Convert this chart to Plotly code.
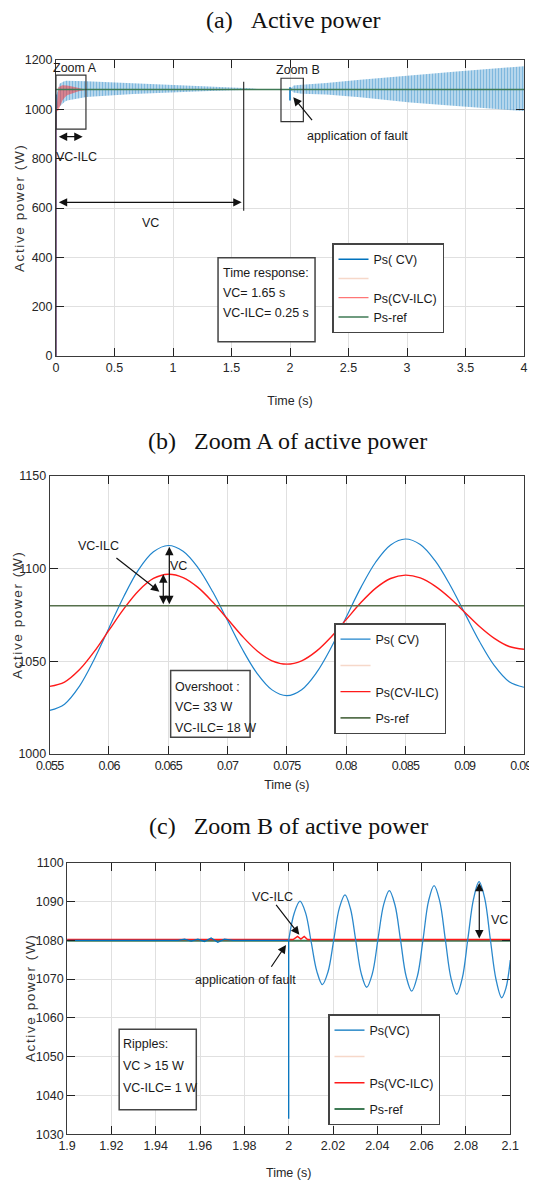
import plotly.graph_objects as go

# ======================= DATA =======================
# ---- (a) Active power, 0-4 s ----
A_T_TICKS = [0, 0.5, 1, 1.5, 2, 2.5, 3, 3.5, 4]
A_T_LABELS = ["0", "0.5", "1", "1.5", "2", "2.5", "3", "3.5", "4"]
A_P_TICKS = [0, 200, 400, 600, 800, 1000, 1200]

a_cv_line_t = [0, 0, None, 2.0, 2.0]
a_cv_line_p = [0, 1060, None, 1090, 1036]
a_cv_up1_t = [0.004, 0.03, 0.065, 0.085, 0.26, 0.66, 0.95, 1.25, 1.5, 1.65, 1.8]
a_cv_up1_p = [1060, 1104, 1113, 1116, 1114, 1106, 1099, 1094, 1090, 1085, 1080]
a_cv_lo1_t = [0.004, 0.02, 0.055, 0.075, 0.095, 0.26, 0.66, 0.95, 1.25, 1.5, 1.65, 1.8]
a_cv_lo1_p = [1000, 1010, 1023, 1031, 1036, 1050, 1062, 1068, 1073, 1077, 1079, 1080]
a_cv_up2_t = [2.0, 2.03, 2.1, 2.31, 2.6, 3.03, 3.45, 4.0]
a_cv_up2_p = [1080, 1097, 1100, 1107, 1120, 1138, 1154, 1175]
a_cv_lo2_t = [2.0, 2.03, 2.1, 2.31, 2.6, 3.03, 3.45, 4.0]
a_cv_lo2_p = [1080, 1068, 1063, 1060, 1049, 1028, 1012, 993]
a_ilc_line_t = [0, 0]
a_ilc_line_p = [0, 1000]
a_ilc_up_t = [0.004, 0.02, 0.055, 0.075, 0.095, 0.14, 0.2, 0.26]
a_ilc_up_p = [1000, 1090, 1098, 1098, 1097, 1093, 1086, 1081]
a_ilc_lo_t = [0.004, 0.02, 0.055, 0.075, 0.095, 0.14, 0.2, 0.26]
a_ilc_lo_p = [990, 995, 1036, 1048, 1057, 1066, 1074, 1079]
a_ref_t = [0, 4]
a_ref_p = [1080, 1080]

# ---- (b) Zoom A ----
B_T_TICKS = [0.055, 0.06, 0.065, 0.07, 0.075, 0.08, 0.085, 0.09, 0.095]
B_T_LABELS = ["0.055", "0.06", "0.065", "0.07", "0.075", "0.08", "0.085", "0.09", "0.095"]
B_P_TICKS = [1000, 1050, 1100, 1150]
b_t = [0.055, 0.05625, 0.0575, 0.05875, 0.06, 0.06125, 0.0625, 0.06375,
       0.065, 0.06625, 0.0675, 0.06875, 0.07, 0.07125, 0.0725, 0.07375,
       0.075, 0.07625, 0.0775, 0.07875, 0.08, 0.08125, 0.0825, 0.08375,
       0.085, 0.08625, 0.0875, 0.08875, 0.09, 0.09125, 0.0925, 0.09375, 0.095]
b_cv = [1023.5, 1026.9, 1036.5, 1051.0, 1068.0, 1085.0, 1099.5, 1109.1,
        1112.5, 1109.4, 1100.6, 1087.5, 1072.0, 1056.5, 1043.4, 1034.6,
        1031.5, 1034.7, 1043.9, 1057.6, 1073.8, 1089.9, 1103.6, 1112.8,
        1116.0, 1113.0, 1104.3, 1091.3, 1076.0, 1060.7, 1047.7, 1039.0, 1036.0]
b_ilc = [1036.5, 1038.8, 1045.4, 1055.2, 1066.8, 1078.3, 1088.1, 1094.7,
         1097.0, 1095.2, 1089.9, 1082.0, 1072.8, 1063.5, 1055.6, 1050.3,
         1048.5, 1050.3, 1055.5, 1063.3, 1072.5, 1081.7, 1089.5, 1094.7,
         1096.5, 1095.0, 1090.6, 1084.2, 1076.5, 1068.8, 1062.4, 1058.0, 1056.5]
b_ref_t = [0.055, 0.095]
b_ref_p = [1080, 1080]

# ---- (c) Zoom B ----
C_T_TICKS = [1.9, 1.92, 1.94, 1.96, 1.98, 2.0, 2.02, 2.04, 2.06, 2.08, 2.1]
C_T_LABELS = ["1.9", "1.92", "1.94", "1.96", "1.98", "2", "2.02", "2.04", "2.06", "2.08", "2.1"]
C_P_TICKS = [1030, 1040, 1050, 1060, 1070, 1080, 1090, 1100]
c_vc_pre_t = [1.9, 1.95, 1.953, 1.956, 1.959, 1.962, 1.965, 1.968, 1.971, 1.975, 2.0, 2.0, 2.0]
c_vc_pre_p = [1080, 1080, 1080.3, 1079.8, 1080.3, 1079.7, 1080.6, 1079.5, 1080.3, 1080, 1080, 1034, 1080]
c_vc_osc_t = [2.0, 2.00255, 2.0051, 2.00765, 2.0102, 2.0127, 2.0152, 2.01775, 2.0203, 2.02285,
              2.0254, 2.02785, 2.0303, 2.03275, 2.0352, 2.03775, 2.0403, 2.04285, 2.0454, 2.04795,
              2.0505, 2.053, 2.0555, 2.05805, 2.0606, 2.0631, 2.0656, 2.06815, 2.0707, 2.07325,
              2.0758, 2.07835, 2.0809, 2.0834, 2.0859, 2.08845, 2.091, 2.09355, 2.0961, 2.098, 2.1]
c_vc_osc_p = [1080.0, 1087.1, 1090.1, 1087.0, 1079.4, 1072.0, 1068.6, 1071.9, 1080.0, 1088.3,
              1091.7, 1088.2, 1079.8, 1071.4, 1067.9, 1071.4, 1080.3, 1089.2, 1092.8, 1089.1,
              1079.9, 1070.7, 1066.9, 1070.7, 1080.1, 1090.1, 1094.1, 1090.1, 1080.1, 1070.2,
              1066.1, 1070.3, 1080.6, 1090.6, 1095.1, 1090.8, 1080.2, 1069.9, 1065.2, 1067.6, 1074.9]
c_ilc_t = [1.9, 2.002, 2.004, 2.0055, 2.007, 2.0085, 2.1]
c_ilc_p = [1080.2, 1080.2, 1081, 1080.3, 1081, 1080.2, 1080.2]
c_ref_t = [1.9, 2.1]
c_ref_p = [1079.9, 1079.9]

# ======================= STYLE =======================
OFF = 8                     # page margin of the html body
W, H = 537 - OFF, 1180 - OFF
NARROW = "Liberation Sans, sans-serif"
SERIF = "Liberation Serif, Times New Roman, serif"
BLUE = "#0072BD"
RED = "#FF1A1A"
GREEN = "#3f7a55"
PEACH = "rgba(240,190,165,0.6)"
TXT = "#1a1a1a"
FS = 12.5


def px_x(p):
    return (p - OFF) / W


def px_y(p):
    return 1 - (p - OFF) / H


def band(up_t, up_p, lo_t, lo_p):
    return list(up_t) + list(lo_t)[::-1], list(up_p) + list(lo_p)[::-1]


def tight(labels, ls=-0.8):
    return ["<span style='letter-spacing:%spx'>%s</span>" % (ls, s) for s in labels]


fig = go.Figure()

# ---------- (a) ----------
x1, y1 = band(a_cv_up1_t, a_cv_up1_p, a_cv_lo1_t, a_cv_lo1_p)
x2, y2 = band(a_cv_up2_t, a_cv_up2_p, a_cv_lo2_t, a_cv_lo2_p)
fig.add_trace(go.Scatter(x=x1 + [None] + x2, y=y1 + [None] + y2, xaxis="x", yaxis="y",
                         mode="lines", fill="toself", line=dict(width=0, color=BLUE),
                         fillcolor="rgba(255,255,255,0)",
                         fillpattern=dict(shape="|", fgcolor=BLUE, bgcolor="rgba(255,255,255,0)",
                                          size=3, solidity=0.72),
                         showlegend=False, hoverinfo="skip"))
fig.add_trace(go.Scatter(x=a_cv_line_t, y=a_cv_line_p, xaxis="x", yaxis="y", mode="lines",
                         line=dict(color=BLUE, width=1.5), name="Ps( CV)",
                         legend="legend", legendgroup="a1", legendrank=1))
xr, yr = band(a_ilc_up_t, a_ilc_up_p, a_ilc_lo_t, a_ilc_lo_p)
fig.add_trace(go.Scatter(x=xr, y=yr, xaxis="x", yaxis="y", mode="lines", fill="toself",
                         line=dict(width=0, color=RED), fillcolor="rgba(255,255,255,0)",
                         fillpattern=dict(shape="|", fgcolor=RED, bgcolor="rgba(255,255,255,0)",
                                          size=2, solidity=0.9),
                         showlegend=False, hoverinfo="skip"))
fig.add_trace(go.Scatter(x=a_ilc_line_t, y=a_ilc_line_p, xaxis="x", yaxis="y", mode="lines",
                         line=dict(color=RED, width=1.2), opacity=0.6, name="Ps(CV-ILC)",
                         legend="legend", legendgroup="a3", legendrank=3))
fig.add_trace(go.Scatter(x=[None], y=[None], xaxis="x", yaxis="y", mode="lines",
                         line=dict(color=PEACH, width=1.5), name=" ",
                         legend="legend", legendgroup="a2", legendrank=2))
fig.add_trace(go.Scatter(x=a_ref_t, y=a_ref_p, xaxis="x", yaxis="y", mode="lines",
                         line=dict(color=GREEN, width=1.5), name="Ps-ref",
                         legend="legend", legendgroup="a4", legendrank=4))

# ---------- (b) ----------
fig.add_trace(go.Scatter(x=b_t, y=b_cv, xaxis="x2", yaxis="y2", mode="lines",
                         line=dict(color="#1f84cc", width=1.2, shape="spline"), name="Ps( CV)",
                         legend="legend2", legendgroup="b1", legendrank=1))
fig.add_trace(go.Scatter(x=b_t, y=b_ilc, xaxis="x2", yaxis="y2", mode="lines",
                         line=dict(color=RED, width=1.4, shape="spline"), name="Ps(CV-ILC)",
                         legend="legend2", legendgroup="b3", legendrank=3))
fig.add_trace(go.Scatter(x=[None], y=[None], xaxis="x2", yaxis="y2", mode="lines",
                         line=dict(color=PEACH, width=1.5), name=" ",
                         legend="legend2", legendgroup="b2", legendrank=2))
fig.add_trace(go.Scatter(x=b_ref_t, y=b_ref_p, xaxis="x2", yaxis="y2", mode="lines",
                         line=dict(color="#56704c", width=1.6), name="Ps-ref",
                         legend="legend2", legendgroup="b4", legendrank=4))

# ---------- (c) ----------
fig.add_trace(go.Scatter(x=c_ref_t, y=c_ref_p, xaxis="x3", yaxis="y3", mode="lines",
                         line=dict(color=GREEN, width=2), name="Ps-ref",
                         legend="legend3", legendgroup="c4", legendrank=4))
fig.add_trace(go.Scatter(x=c_ilc_t, y=c_ilc_p, xaxis="x3", yaxis="y3", mode="lines",
                         line=dict(color=RED, width=1.5), name="Ps(VC-ILC)",
                         legend="legend3", legendgroup="c3", legendrank=3))
fig.add_trace(go.Scatter(x=[None], y=[None], xaxis="x3", yaxis="y3", mode="lines",
                         line=dict(color=PEACH, width=1.5), name=" ",
                         legend="legend3", legendgroup="c2", legendrank=2))
fig.add_trace(go.Scatter(x=c_vc_pre_t, y=c_vc_pre_p, xaxis="x3", yaxis="y3", mode="lines",
                         line=dict(color=BLUE, width=1.3), name="Ps(VC)",
                         legend="legend3", legendgroup="c1", legendrank=1))
fig.add_trace(go.Scatter(x=c_vc_osc_t, y=c_vc_osc_p, xaxis="x3", yaxis="y3", mode="lines",
                         line=dict(color="#2a88cc", width=1.3, shape="spline"),
                         showlegend=False, legend="legend3", legendgroup="c1"))

# ======================= LAYOUT =======================
def axis_style(**kw):
    d = dict(showline=True, linecolor="#3a3a3a", linewidth=1, mirror="ticks",
             ticks="inside", ticklen=8, tickcolor="#222", tickwidth=1, automargin=False,
             showgrid=True, gridcolor="#e0e0e0", gridwidth=1, zeroline=False,
             ticklabeloverflow="allow",
             tickfont=dict(family=NARROW, size=FS, color="#262626"))
    d.update(kw)
    return d


xt = dict(text="Time (s)", font=dict(family=NARROW, size=FS, color="#262626"))

fig.update_layout(
    width=W, height=H, margin=dict(l=0, r=0, t=0, b=0, autoexpand=False),
    paper_bgcolor="white", plot_bgcolor="white",
    xaxis=axis_style(domain=[px_x(56), px_x(524)], range=[0, 4.000001], anchor="y",
                     tickvals=A_T_TICKS, ticktext=A_T_LABELS, title=dict(xt, standoff=22)),
    yaxis=axis_style(domain=[px_y(356), px_y(60)], range=[0, 1200.001], anchor="x",
                     tickvals=A_P_TICKS),
    xaxis2=axis_style(domain=[px_x(49.7), px_x(524)], range=[0.055, 0.09500001], anchor="y2",
                      tickvals=B_T_TICKS, ticktext=tight(B_T_LABELS), title=dict(xt, standoff=8)),
    yaxis2=axis_style(domain=[px_y(754), px_y(476)], range=[1000, 1150.001], anchor="x2",
                      tickvals=B_P_TICKS),
    xaxis3=axis_style(domain=[px_x(67.1), px_x(510.3)], range=[1.9, 2.1000001], anchor="y3",
                      tickvals=C_T_TICKS, ticktext=C_T_LABELS, title=dict(xt, standoff=15)),
    yaxis3=axis_style(domain=[px_y(1134.3), px_y(862.7)], range=[1030, 1100.001], anchor="x3",
                      tickvals=C_P_TICKS),
)

leg_common = dict(bgcolor="white", bordercolor="#444", borderwidth=1.5, xanchor="right",
                  yanchor="top", traceorder="grouped", itemwidth=30,
                  font=dict(family=NARROW, size=FS, color="#1a1a1a"))
fig.update_layout(
    legend=dict(leg_common, x=px_x(444), y=px_y(243), tracegroupgap=0),
    legend2=dict(leg_common, x=px_x(446), y=px_y(623), tracegroupgap=7),
    legend3=dict(leg_common, x=px_x(440), y=px_y(1014), tracegroupgap=7),
)

shapes = []
ann = []


def label(xref, yref, x, y, text, size=FS, xanchor="center"):
    ann.append(dict(xref=xref, yref=yref, x=x, y=y, text=text, showarrow=False,
                    xanchor=xanchor, yanchor="middle",
                    font=dict(family=NARROW, size=size, color=TXT)))


def arrow(xref, yref, hx, hy, tx, ty, both=False):
    ann.append(dict(xref=xref, yref=yref, axref=xref, ayref=yref, x=hx, y=hy, ax=tx, ay=ty,
                    text="", showarrow=True, arrowhead=2, startarrowhead=2,
                    arrowsize=1.4, startarrowsize=1.4, arrowwidth=1.2, arrowcolor="#111",
                    arrowside="end+start" if both else "end", standoff=0, startstandoff=0))


def rect(xref, yref, x0, x1, y0, y1, fill=None, width=1.2, color="#333"):
    shapes.append(dict(type="rect", xref=xref, yref=yref, x0=x0, x1=x1, y0=y0, y1=y1,
                       line=dict(color=color, width=width),
                       fillcolor=fill if fill else "rgba(0,0,0,0)", layer="above"))


# panel titles
for txt, yy, cx in [("(a)&nbsp;&nbsp;&nbsp;Active power", 20, 293),
                    ("(b)&nbsp;&nbsp;&nbsp;Zoom A of active power", 441, 287),
                    ("(c)&nbsp;&nbsp;&nbsp;Zoom B of active power", 826, 288)]:
    ann.append(dict(xref="paper", yref="paper", x=px_x(cx), y=px_y(yy), text=txt,
                    showarrow=False, xanchor="center", yanchor="middle",
                    font=dict(family=SERIF, size=24, color="#111")))

# y-axis titles (rotated)
for xx, yy in [(20, 208), (17, 615), (30, 998)]:
    ann.append(dict(xref="paper", yref="paper", x=px_x(xx), y=px_y(yy), textangle=-90,
                    text="<span style='letter-spacing:1.6px'>Active power (W)</span>",
                    showarrow=False, xanchor="center", yanchor="middle",
                    font=dict(family="Liberation Sans, sans-serif", size=13.5, color="#333")))

# (a)
rect("x", "y", 0.0, 0.256, 920, 1139)
label("x", "y", 0.162, 1168, "Zoom A")
arrow("x", "y", 0.228, 889, 0.011, 889, both=True)
label("x", "y", 0.175, 807, "VC-ILC")
arrow("x", "y", 1.587, 623, 0.011, 623, both=True)
shapes.append(dict(type="line", xref="x", yref="y", x0=1.604, x1=1.604, y0=589, y1=1112,
                   line=dict(color="#333", width=1.2)))
label("x", "y", 0.81, 538, "VC")
rect("x", "y", 1.923, 2.114, 950, 1126)
label("x", "y", 2.071, 1159, "Zoom B")
arrow("x", "y", 2.028, 1049, 2.199, 950)
label("x", "y", 2.577, 893, "application of fault")
rect("x", "y", 1.385, 2.214, 58, 398, fill="white", width=1.5, color="#444")
for t, v in [("Time response:", 273.3), ("VC= 1.65 s", 293.3), ("VC-ILC= 0.25 s", 312.7)]:
    ann.append(dict(xref="paper", yref="paper", x=px_x(221), y=px_y(v), text=t, showarrow=False,
                    xanchor="left", yanchor="middle", font=dict(family=NARROW, size=FS, color=TXT)))

# (b)
label("x2", "y2", 0.0591, 1112.2, "VC-ILC")
arrow("x2", "y2", 0.06425, 1087.6, 0.0605, 1106.4)
arrow("x2", "y2", 0.06458, 1097, 0.06458, 1080, both=True)
arrow("x2", "y2", 0.06509, 1111.8, 0.06509, 1080, both=True)
label("x2", "y2", 0.0659, 1101.4, "VC")
rect("x2", "y2", 0.0652, 0.0719, 1009, 1045, fill="white", width=1.5, color="#444")
for t, v in [("Overshoot :", 686.7), ("VC= 33 W", 707.3), ("VC-ILC= 18 W", 728.3)]:
    ann.append(dict(xref="paper", yref="paper", x=px_x(173), y=px_y(v), text=t, showarrow=False,
                    xanchor="left", yanchor="middle", font=dict(family=NARROW, size=FS, color=TXT)))

# (c)
label("x3", "y3", 1.9925, 1091.2, "VC-ILC")
arrow("x3", "y3", 2.0048, 1081.4, 1.9938, 1089.5)
label("x3", "y3", 1.9804, 1069.8, "application of fault")
arrow("x3", "y3", 1.9988, 1078.8, 1.9917, 1072.8)
arrow("x3", "y3", 2.086, 1094.8, 2.086, 1080.1, both=True)
label("x3", "y3", 2.095, 1085.2, "VC")
rect("x3", "y3", 1.9235, 1.9583, 1036.3, 1057.1, fill="white", width=1.5, color="#444")
for t, v in [("Ripples:", 1044.3), ("VC > 15 W", 1065.7), ("VC-ILC= 1 W", 1087.7)]:
    ann.append(dict(xref="paper", yref="paper", x=px_x(121), y=px_y(v), text=t, showarrow=False,
                    xanchor="left", yanchor="middle", font=dict(family=NARROW, size=FS, color=TXT)))

fig.update_layout(shapes=shapes, annotations=ann)
fig.write_html("out.html")
